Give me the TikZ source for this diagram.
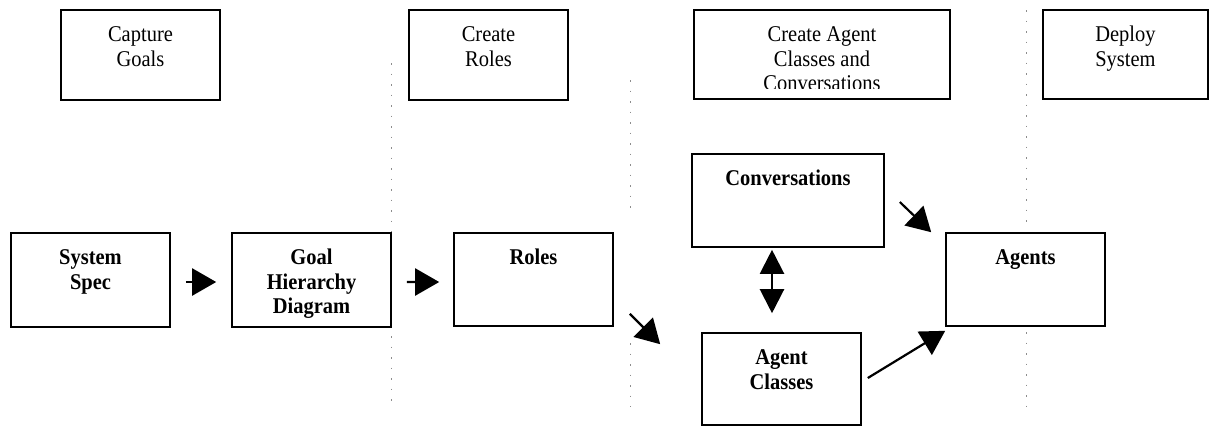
\documentclass[tikz,border=0pt]{standalone}
\usepackage{fontspec}
\setmainfont{Liberation Serif}[FakeStretch=0.91]
\usetikzlibrary{arrows.meta,calc}
\newcommand\bxt[3]{\parbox[c][#2][t]{#1}{\centering\vspace*{14.5bp}\strut #3\par}}
\begin{document}
\begin{tikzpicture}[x=1bp,y=-1bp,
  stage/.style={draw, line width=1.6bp, inner sep=0pt, font=\fontsize{22.5bp}{24.5bp}\selectfont},
  work/.style={stage, font=\fontsize{22.5bp}{24.5bp}\selectfont\bfseries},
  arr/.style={line width=2.2bp, -{Triangle[length=24bp,width=27bp]}},
  darr/.style={line width=2.2bp, {Triangle[length=24bp,width=24bp]}-{Triangle[length=24bp,width=24bp]}},
  phase/.style={draw=black!45, line width=1bp, dash pattern=on 1.5bp off 9bp}]
\useasboundingbox (0,0) rectangle (1209,426);
% phase separators
\draw[phase] (391.5,63) -- (391.5,407);
\draw[phase] (630,80) -- (630,213);
\draw[phase] (630,343) -- (630,407);
\draw[phase] (1026.5,10) -- (1026.5,228);
\draw[phase] (1026.5,332) -- (1026.5,407);
% stage boxes
\node[stage] (cg) at (140.5,55) {\bxt{159bp}{90bp}{Capture\\Goals}};
\node[stage] (cr) at (488.5,55) {\bxt{159bp}{90bp}{Create\\Roles}};
\node[stage] (ca) at (822,54.5) {\bxt{256bp}{89bp}{Create Agent\\Classes and\\Conversations}};
\node[stage] (ds) at (1125.5,54.5) {\bxt{165bp}{89bp}{Deploy\\System}};
\fill[white] ($(ca.south west)+(2,-11)$) rectangle ($(ca.south east)+(-2,-2)$);
% work products
\node[work] (ss) at (90.5,280) {\bxt{159bp}{94bp}{System\\Spec}};
\node[work] (gh) at (311.5,280) {\bxt{159bp}{94bp}{Goal\\Hierarchy\\Diagram}};
\node[work] (ro) at (533.5,279.5) {\bxt{159bp}{93bp}{Roles}};
\node[work] (cv) at (788,200.5) {\bxt{192bp}{93bp}{Conversations}};
\node[work] (ac) at (781.5,379) {\bxt{159bp}{92bp}{Agent\\Classes}};
\node[work] (ag) at (1025.5,279.5) {\bxt{159bp}{93bp}{Agents}};
% connectors
\draw[arr] ($(ss.east)+(15,2)$) -- ($(gh.west)+(-15,2)$);
\draw[arr] ($(gh.east)+(15,2)$) -- ($(ro.west)+(-14,2.5)$);
\draw[arr] ($(ro.south east)+(16,-13)$) -- ($(ac.north west)+(-41,12)$);
\draw[arr] ($(cv.east)+(15,1.5)$) -- ($(ag.north west)+(-14,0)$);
\draw[arr] ($(ac.east)+(6,-1)$) -- ($(ag.south west)+(0,4)$);
\draw[darr] ($(cv.south)+(-16,2)$) -- ($(ac.north)+(-9.5,-19)$);
\end{tikzpicture}
\end{document}
